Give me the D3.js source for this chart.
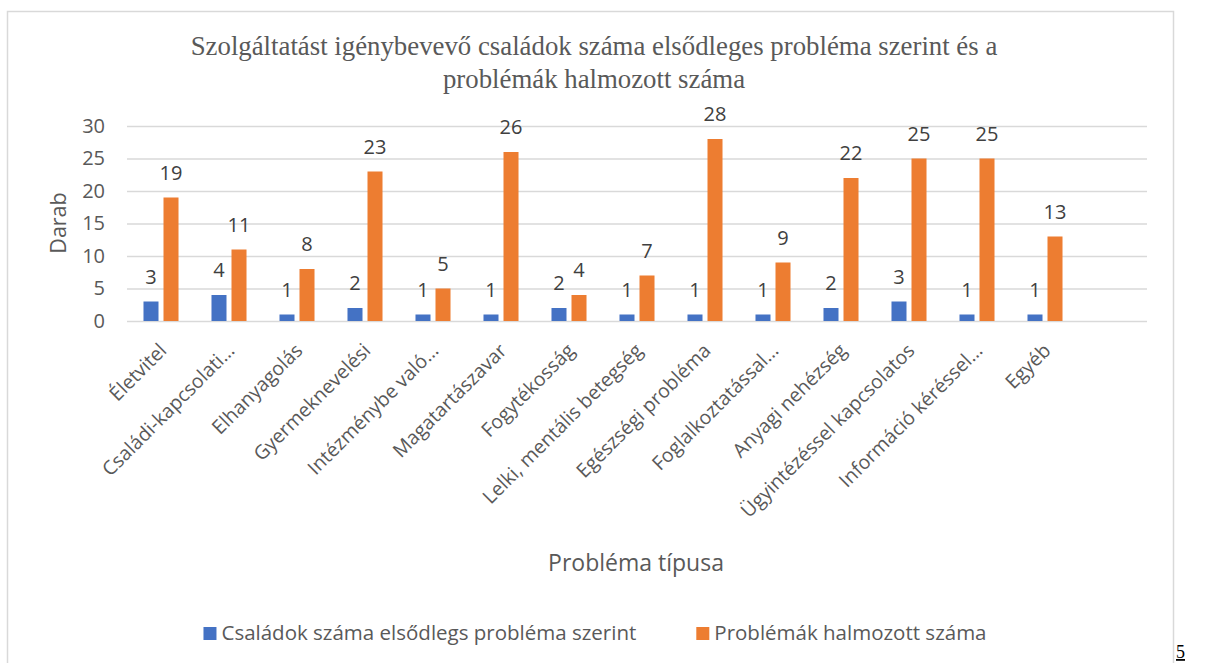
<!DOCTYPE html>
<html lang="hu">
  <head>
    <meta charset="utf-8">
    <title>Szolgáltatást igénybevevő családok</title>
    <script src="https://cdnjs.cloudflare.com/ajax/libs/d3/7.8.5/d3.min.js"></script>
    <style type="text/css">
      body { margin: 0; background: #fff; }
      text { font-family: "Open Sans", sans-serif; }
    </style>
  </head>
  <body>
    <script type="text/javascript">

    // data (last category is an empty row in the source sheet)
    var categories = ["Életvitel", "Családi-kapcsolati…", "Elhanyagolás", "Gyermeknevelési",
      "Intézménybe való…", "Magatartászavar", "Fogytékosság", "Lelki, mentális betegség",
      "Egészségi probléma", "Foglalkoztatással…", "Anyagi nehézség",
      "Ügyintézéssel kapcsolatos", "Információ kéréssel…", "Egyéb", ""];
    var csaladok = [3, 4, 1, 2, 1, 1, 2, 1, 1, 1, 2, 3, 1, 1, null];
    var halmozott = [19, 11, 8, 23, 5, 26, 4, 7, 28, 9, 22, 25, 25, 13, null];
    var seriesNames = ["Családok száma elsődlegs probléma szerint", "Problémák halmozott száma"];
    var seriesColors = ["#4472c4", "#ed7d31"];
    var yTicks = [0, 5, 10, 15, 20, 25, 30];
    var titleLines = ["Szolgáltatást igénybevevő családok száma elsődleges probléma szerint és a",
      "problémák halmozott száma"];

    var w = 1206, h = 663;
    var plotLeft = 127, plotRight = 1147, plotTop = 126, plotBottom = 321;

    var svg = d3.select("body").append("svg")
      .attr("width", w)
      .attr("height", h);

    // chart frame
    svg.append("rect")
      .attr("x", 7.5).attr("y", 11.5)
      .attr("width", 1166).attr("height", 700)
      .attr("fill", "#fff")
      .attr("stroke", "#d9d9d9")
      .attr("stroke-width", 1.5);

    var x0 = d3.scaleBand()
      .domain(d3.range(categories.length))
      .range([plotLeft, plotRight])
      .paddingInner(0.485)
      .paddingOuter(0.2425);

    var x1 = d3.scaleBand()
      .domain([0, 1])
      .range([0, x0.bandwidth()])
      .paddingInner(0.25);

    var y = d3.scaleLinear()
      .domain([0, 30])
      .range([plotBottom, plotTop]);

    // gridlines + y labels
    var yAxis = d3.axisLeft(y)
      .tickValues(yTicks)
      .tickSize(-(plotRight - plotLeft))
      .tickPadding(22);
    var gy = svg.append("g")
      .attr("transform", "translate(" + plotLeft + ",0)")
      .call(yAxis);
    gy.select(".domain").remove();
    gy.selectAll(".tick line")
      .attr("stroke", "#d9d9d9")
      .attr("stroke-width", 1.5);
    gy.selectAll(".tick text")
      .attr("fill", "#595959")
      .attr("font-size", "20px")
      .attr("font-family", "'Open Sans', sans-serif");

    // bars
    var rows = categories.map(function(c, i) {
      return { i: i, vals: [csaladok[i], halmozott[i]] };
    });

    var groups = svg.selectAll("g.cat")
      .data(rows)
      .enter()
      .append("g")
      .attr("class", "cat")
      .attr("transform", function(d) { return "translate(" + x0(d.i) + ",0)"; });

    var cells = groups.selectAll("g.cell")
      .data(function(d) {
        return d.vals.map(function(v, s) { return { s: s, v: v }; })
          .filter(function(e) { return e.v != null; });
      })
      .enter()
      .append("g")
      .attr("class", "cell");

    cells.append("rect")
      .attr("x", function(d) { return x1(d.s); })
      .attr("y", function(d) { return y(d.v); })
      .attr("width", x1.bandwidth())
      .attr("height", function(d) { return y(0) - y(d.v); })
      .attr("fill", function(d) { return seriesColors[d.s]; });

    cells.append("text")
      .text(function(d) { return d.v; })
      .attr("text-anchor", "middle")
      .attr("x", function(d) { return x1(d.s) + x1.bandwidth() / 2; })
      .attr("y", function(d) { return y(d.v) - 18; })
      .attr("font-size", "20px")
      .attr("fill", "#404040");

    // category labels, rotated
    svg.selectAll("text.cat-label")
      .data(categories)
      .enter()
      .append("text")
      .attr("class", "cat-label")
      .text(function(d) { return d; })
      .attr("text-anchor", "end")
      .attr("dy", "0.35em")
      .attr("transform", function(d, i) {
        return "translate(" + (x0(i) + x0.bandwidth() / 2 + 2) + "," + (plotBottom + 26) + ") rotate(-45)";
      })
      .attr("font-size", "19.5px")
      .attr("fill", "#595959");

    // title
    svg.append("text")
      .attr("text-anchor", "middle")
      .attr("font-size", "26.8px")
      .attr("fill", "#595959")
      .style("font-family", "'Liberation Serif', 'Times New Roman', serif")
      .selectAll("tspan")
      .data(titleLines)
      .enter()
      .append("tspan")
      .attr("x", 594)
      .attr("y", function(d, i) { return 55 + i * 33; })
      .text(function(d) { return d; });

    // axis titles
    svg.append("text")
      .attr("transform", "translate(66,223) rotate(-90)")
      .attr("text-anchor", "middle")
      .attr("font-size", "21.5px")
      .attr("fill", "#595959")
      .text("Darab");

    svg.append("text")
      .attr("x", 636).attr("y", 571)
      .attr("text-anchor", "middle")
      .attr("font-size", "23px")
      .attr("fill", "#595959")
      .text("Probléma típusa");

    // legend
    var legend = svg.append("g");
    var lx = 0;
    seriesNames.forEach(function(name, s) {
      var g = legend.append("g").attr("transform", "translate(" + lx + ",0)");
      g.append("rect")
        .attr("x", 0).attr("y", -13)
        .attr("width", 13).attr("height", 13)
        .attr("fill", seriesColors[s]);
      var t = g.append("text")
        .attr("x", 18).attr("y", 0)
        .attr("font-size", "20.5px")
        .attr("fill", "#595959")
        .text(name);
      lx += 18 + t.node().getComputedTextLength() + 60;
    });
    var legendW = lx - 60;
    legend.attr("transform", "translate(" + (595 - legendW / 2) + ",640)");

    // page number
    svg.append("text")
      .attr("x", 1176).attr("y", 658)
      .attr("font-size", "18px")
      .attr("fill", "#000")
      .attr("text-decoration", "underline")
      .style("font-family", "'Liberation Serif', 'Times New Roman', serif")
      .text("5");

    </script>
  </body>
</html>
